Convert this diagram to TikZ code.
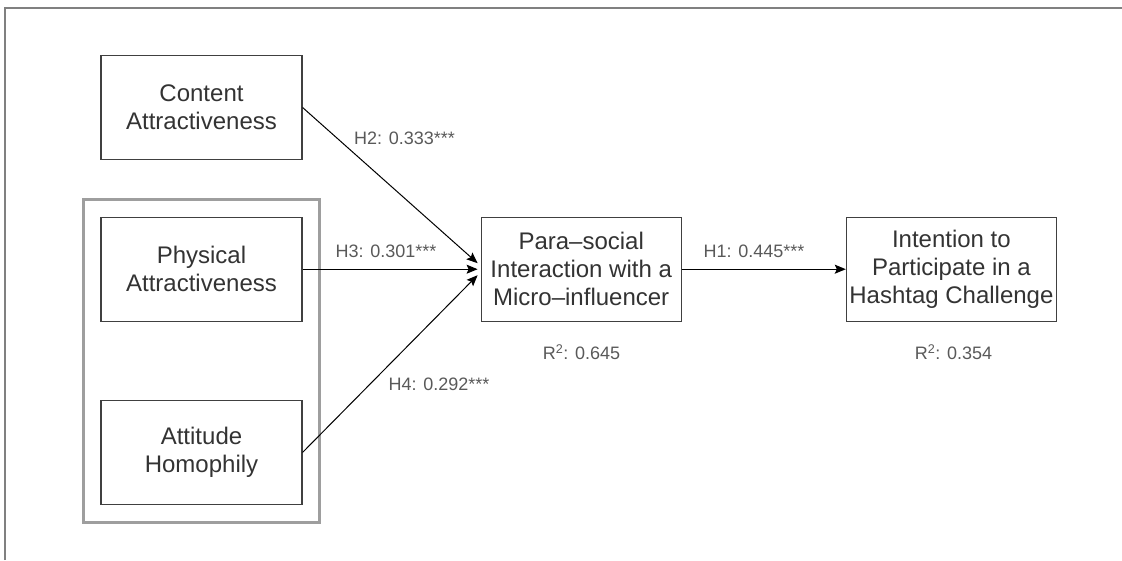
\documentclass[tikz,border=0pt]{standalone}
\usepackage{fontspec}
\setmainfont{Liberation Sans}
\usetikzlibrary{arrows.meta, positioning, calc, fit}

\begin{document}
\begin{tikzpicture}[
    x=1pt, y=-1pt,
    box/.style={rectangle, draw=black!75, line width=1.2pt, text=black!80, align=center, minimum width=201pt, minimum height=104pt, inner sep=0pt, font=\fontsize{24}{28}\selectfont},
    group/.style={rectangle, draw=black!38, line width=3pt},
    lbl/.style={text=black!65, inner sep=0pt, font=\fontsize{18}{21}\selectfont},
    arrow/.style={line width=1pt, -{Stealth[length=11pt, width=9pt, inset=2pt]}}
]
\useasboundingbox (0,0) rectangle (1122,560);

% Frame
\draw [black!50, line width=2pt] (5,560) -- (5,7.5) -- (1122,7.5);

% Nodes
\node (content) [box] at (201.5,107.5) {Content\\Attractiveness};
\node (physical) [box, below=56.5pt of content] {Physical\\Attractiveness};
\node (attitude) [box, below=78pt of physical] {Attitude\\Homophily};
\node (homophily) [group, inner sep=17pt, fit=(physical)(attitude)] {};
\node (para) [box, minimum width=200pt, right=178pt of physical] {Para–social\\Interaction with a\\Micro–influencer};
\node (intention) [box, minimum width=210pt, right=164pt of para] {Intention to\\Participate in a\\Hashtag Challenge};

% Arrow ends
\coordinate (in2) at ($(para.west)+(-3,-6)$);
\coordinate (in3) at ($(para.west)+(-3,0)$);
\coordinate (in4) at ($(para.west)+(-3,6)$);

% Arrows
\draw [arrow] (content.east) -- (in2);
\draw [arrow] (physical.east) -- (in3);
\draw [arrow] (attitude.east) -- (in4);
\draw [arrow] (para.east) -- (intention.west);

% Labels
\node (h2) [lbl] at (404.5,138.5) {H2: 0.333***};
\node (h3) [lbl] at (386,251.5) {H3: 0.301***};
\node (h4) [lbl] at (439,384) {H4: 0.292***};
\node (h1) [lbl] at (754,251.5) {H1: 0.445***};
\node (r2para) [lbl] at (581.5,352) {R\textsuperscript{2}: 0.645};
\node (r2intention) [lbl] at (953.5,352) {R\textsuperscript{2}: 0.354};

\end{tikzpicture}
\end{document}
